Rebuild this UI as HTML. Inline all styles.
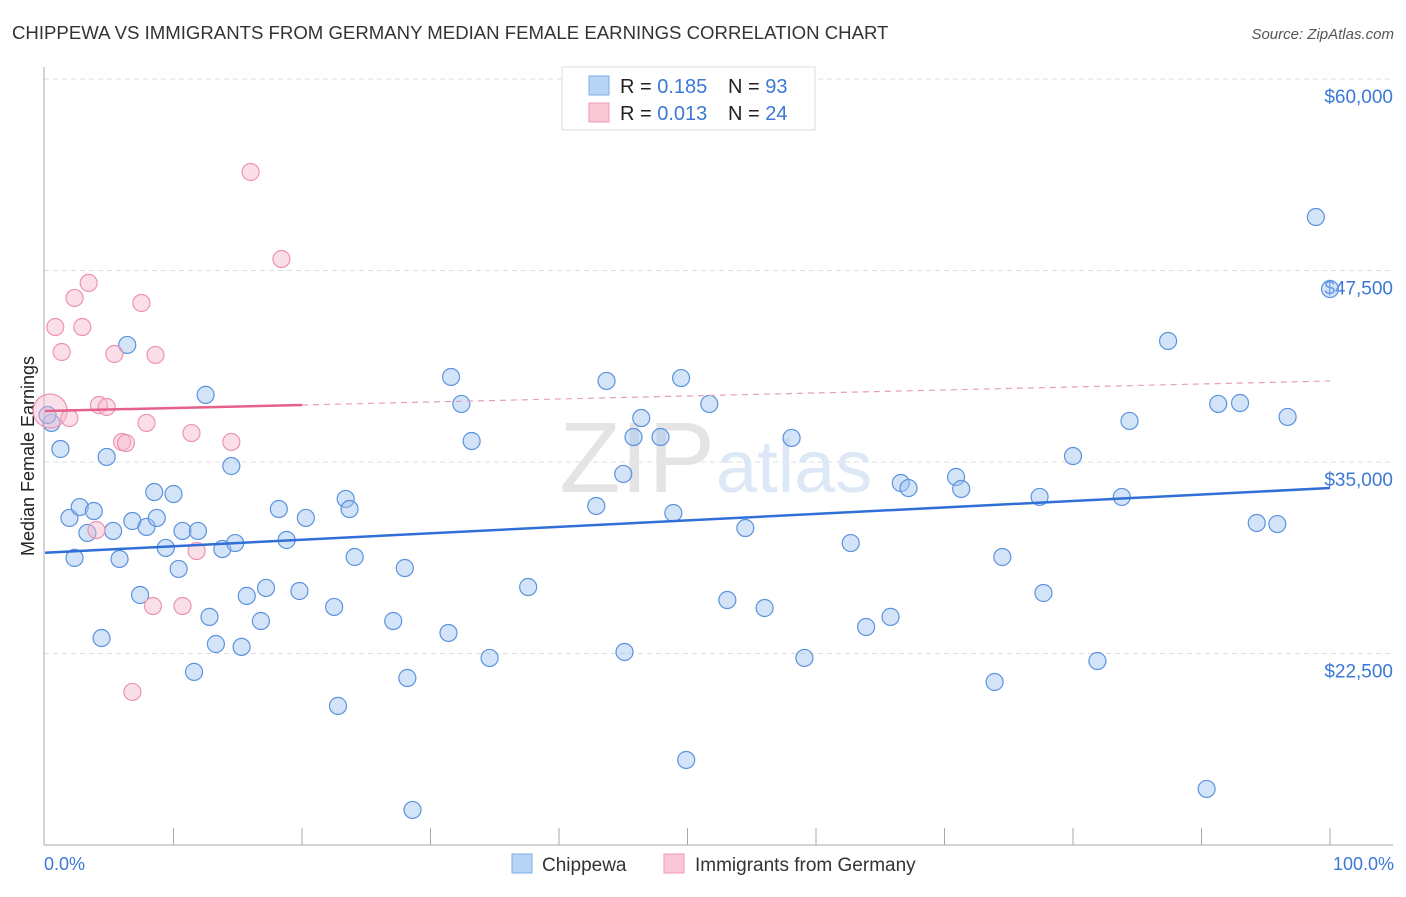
<!DOCTYPE html>
<html><head><meta charset="utf-8"><style>
body{margin:0;background:#fff;font-family:"Liberation Sans",sans-serif}
svg text{font-family:"Liberation Sans",sans-serif}
</style></head><body>
<svg id="c" width="1406" height="892">
<text x="12" y="39" font-size="18.6" fill="#333">CHIPPEWA VS IMMIGRANTS FROM GERMANY MEDIAN FEMALE EARNINGS CORRELATION CHART</text>
<text x="1394" y="39" font-size="15" fill="#555" font-style="italic" text-anchor="end">Source: ZipAtlas.com</text>
<text x="34" y="456" font-size="18" fill="#222" text-anchor="middle" transform="rotate(-90 34 456)">Median Female Earnings</text>
<g id="grid"></g>
<text x="715" y="492" font-size="100" fill="#e4e4e4" text-anchor="end" font-family="Liberation Serif">ZIP</text>
<text x="716" y="492" font-size="74" fill="#dce8f5">atlas</text>
<g id="marks"></g>
<g>
<rect x="562" y="67" width="253" height="63" fill="#fff" stroke="#ddd"/>
<rect x="589" y="76" width="20" height="19" fill="#b8d4f5" stroke="#7eaee8"/>
<rect x="589" y="103" width="20" height="19" fill="#f9c8d7" stroke="#ee9ab4"/>
<text x="620" y="93" font-size="20" fill="#222">R = <tspan fill="#3b78d8">0.185</tspan></text>
<text x="728" y="93" font-size="20" fill="#222">N = <tspan fill="#3b78d8">93</tspan></text>
<text x="620" y="120" font-size="20" fill="#222">R = <tspan fill="#3b78d8">0.013</tspan></text>
<text x="728" y="120" font-size="20" fill="#222">N = <tspan fill="#3b78d8">24</tspan></text>
</g>
<g>
<rect x="512" y="854" width="20" height="19" fill="#b8d4f5" stroke="#7eaee8"/>
<text x="542" y="871" font-size="19" fill="#333">Chippewa</text>
<rect x="664" y="854" width="20" height="19" fill="#f9c8d7" stroke="#ee9ab4"/>
<text x="695" y="871" font-size="19" fill="#333">Immigrants from Germany</text>
</g>
<text x="44" y="870" font-size="18" fill="#3b78d8">0.0%</text>
<text x="1394" y="870" font-size="18" fill="#3b78d8" text-anchor="end">100.0%</text>
</svg>
<script>
const yTicks=[60000,47500,35000,22500];
const yTickLabels=["$60,000","$47,500","$35,000","$22,500"];
const blueX=[0.5,1.2,1.9,2.3,2.7,3.3,3.8,4.4,4.8,5.3,5.8,6.4,6.8,7.4,7.9,8.5,8.7,9.4,10.0,10.4,10.7,11.6,11.9,12.5,12.8,13.3,13.8,14.5,14.8,15.3,15.7,16.8,17.2,18.2,18.8,19.8,20.3,22.5,22.8,23.4,23.7,24.1,27.1,28.0,28.2,28.6,31.4,31.6,32.4,33.2,34.6,37.6,42.9,43.7,45.0,45.1,45.8,46.4,47.9,48.9,49.5,49.9,51.7,53.1,54.5,56.0,58.1,59.1,62.7,63.9,65.8,66.6,67.2,70.9,71.3,73.9,74.5,77.4,77.7,80.0,81.9,83.8,84.4,87.4,90.4,91.3,93.0,94.3,95.9,96.7,98.9,100,0.2];
const blueY=[37550,35850,31350,28740,32060,30370,31800,23510,35330,30500,28670,42640,31150,26320,30760,33040,31350,29390,32910,28020,30500,21300,30500,39380,24890,23120,29320,34740,29710,22930,26260,24620,26780,31930,29910,26580,31350,25540,19080,32590,31930,28800,24620,28080,20900,12290,23840,40550,38790,36370,22210,26840,32130,40290,34220,22600,36630,37870,36630,31670,40480,15550,38790,25990,30690,25470,36570,22210,29710,24230,24890,33630,33300,34020,33240,20640,28800,32720,26450,35390,22010,32720,37680,42900,13660,38790,38850,31020,30950,37940,50990,46290,38070];
const pinkX=[0.4,0.8,1.3,1.9,2.3,2.9,3.4,4.0,4.2,4.8,5.4,6.0,6.3,6.8,7.5,7.9,8.4,8.6,10.7,11.4,11.8,14.5,16.0,18.4];
const pinkY=[38330,43810,42180,37870,45710,43810,46690,30560,38720,38590,42050,36310,36240,19990,45380,37550,25600,41990,25600,36890,29190,36310,53930,48250];
const blueTrend=[29080,33300];
const pinkTrend=[38330,40290];
const pinkSolidEnd=20;
const X=p=>45+p*12.85;
const Y=v=>79+(60000-v)/12500*191.5;
const NS="http://www.w3.org/2000/svg";
function mk(t,a,parent){const e=document.createElementNS(NS,t);for(const k in a)e.setAttribute(k,a[k]);parent.appendChild(e);return e;}
const grid=document.getElementById('grid'),marks=document.getElementById('marks');
yTicks.forEach((v,i)=>{
 const l=mk('line',{x1:44,x2:1393,y1:Y(v),y2:Y(v),stroke:'#ddd','stroke-dasharray':'5,4'},grid);
 
 
 const t=mk('text',{x:1393,y:Y(v)+24,'font-size':19,fill:'#3b78d8','text-anchor':'end'},grid);
 t.textContent=yTickLabels[i];
 
 
});
const ax=mk('line',{x1:44,x2:44,y1:67,y2:845,stroke:'#aaa'},grid);


const bx=mk('line',{x1:44,x2:1393,y1:845,y2:845,stroke:'#aaa'},grid);


for(let p=10;p<=100;p+=10){
 const tk=mk('line',{x1:X(p),x2:X(p),y1:828,y2:845,stroke:'#aaa'},grid);
 
 
}
blueX.forEach((x,i)=>{
 const c=mk('circle',{cx:X(x),cy:Y(blueY[i]),r:8.5,fill:'rgba(160,196,240,0.45)',stroke:'#5b93dd','stroke-width':1.2},marks);
 
 
});
pinkX.forEach((x,i)=>{
 const c=mk('circle',{cx:X(x),cy:Y(pinkY[i]),r:i==0?17:8.5,fill:'rgba(247,185,205,0.45)',stroke:'#ec93b0','stroke-width':1.2},marks);
 
 
});
const bl=mk('line',{x1:X(0),x2:X(100),y1:Y(blueTrend[0]),y2:Y(blueTrend[1]),stroke:'#2f6fd6','stroke-width':2.5},marks);


const pm=pinkTrend[0]+(pinkTrend[1]-pinkTrend[0])*pinkSolidEnd/100;
const ps=mk('line',{x1:X(0),x2:X(pinkSolidEnd),y1:Y(pinkTrend[0]),y2:Y(pm),stroke:'#e5608a','stroke-width':2.5},marks);


const pd=mk('line',{x1:X(pinkSolidEnd),x2:X(100),y1:Y(pm),y2:Y(pinkTrend[1]),stroke:'#e5a0b6','stroke-width':1.2,'stroke-dasharray':'6,5'},marks);


</script>
</body></html>
